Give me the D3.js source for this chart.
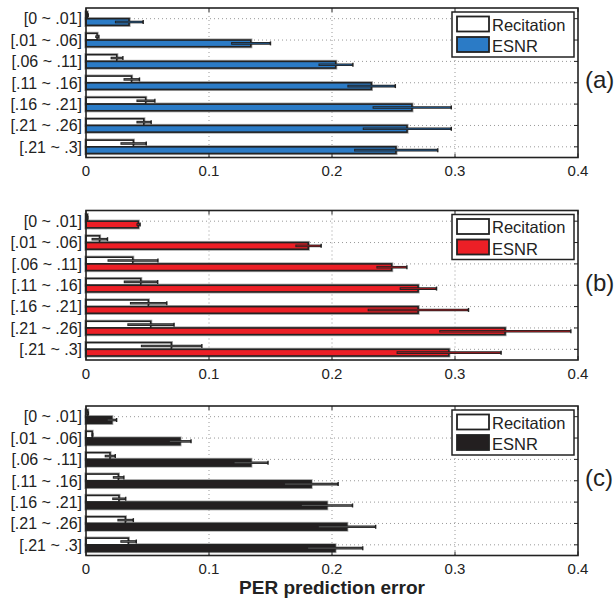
<!DOCTYPE html>
<html>
<head>
<meta charset="utf-8">
<script src="https://cdn.jsdelivr.net/npm/d3@7/dist/d3.min.js"></script>
<style>
  html, body { margin: 0; padding: 0; background: #fff; }
  svg { display: block; font-family: "Liberation Sans", Arial, Helvetica, sans-serif; }
</style>
</head>
<body>
<svg id="chart" width="616" height="600"></svg>
<script>
// categories (top to bottom)
const categories = ["[0 ~ .01]", "[.01 ~ .06]", "[.06 ~ .11]", "[.11 ~ .16]", "[.16 ~ .21]", "[.21 ~ .26]", "[.21 ~ .3]"];
const seriesNames = ["Recitation", "ESNR"];
const xTicks = [0, 0.1, 0.2, 0.3, 0.4];
const panelLabels = ["(a)", "(b)", "(c)"];

// panel (a)
const recA     = [0.001, 0.009, 0.025, 0.037, 0.0485, 0.047, 0.0385];
const recAErr  = [0.0008, 0.0015, 0.005, 0.0065, 0.0075, 0.006, 0.0105];
const esnrA    = [0.035, 0.134, 0.203, 0.232, 0.265, 0.261, 0.252];
const esnrAErr = [0.0115, 0.016, 0.014, 0.0195, 0.032, 0.036, 0.034];

// panel (b)
const recB     = [0.001, 0.011, 0.038, 0.0445, 0.0507, 0.0526, 0.0694];
const recBErr  = [0.0005, 0.0065, 0.0205, 0.0138, 0.015, 0.019, 0.0248];
const esnrB    = [0.0425, 0.1807, 0.2485, 0.270, 0.270, 0.3407, 0.295];
const esnrBErr = [0.0015, 0.0105, 0.0124, 0.015, 0.041, 0.0535, 0.0425];

// panel (c)
const recC     = [0.0014, 0.005, 0.0195, 0.0263, 0.0268, 0.032, 0.0344];
const recCErr  = [0.0005, 0.0005, 0.0043, 0.0045, 0.0055, 0.0065, 0.0065];
const esnrC    = [0.0209, 0.0764, 0.134, 0.183, 0.1957, 0.212, 0.2024];
const esnrCErr = [0.004, 0.009, 0.014, 0.022, 0.021, 0.0235, 0.0226];

const panels = [
  { label: panelLabels[0], rec: recA, recErr: recAErr, esnr: esnrA, esnrErr: esnrAErr, color: "#2b7bc6", top: 8 },
  { label: panelLabels[1], rec: recB, recErr: recBErr, esnr: esnrB, esnrErr: esnrBErr, color: "#ec1f26", top: 210.5 },
  { label: panelLabels[2], rec: recC, recErr: recCErr, esnr: esnrC, esnrErr: esnrCErr, color: "#231f20", top: 406 }
];

const svg = d3.select("#chart");
const plotH = 149.5;
const x = d3.scaleLinear().domain([0, 0.4]).range([86, 578]);
const ink = "#222";

panels.forEach(p => {
  const g = svg.append("g");
  const y = d3.scaleBand().domain(categories).range([p.top, p.top + plotH]).padding(0);
  const sub = d3.scaleBand().domain(seriesNames).range([0, y.bandwidth()]).paddingInner(0).paddingOuter(0.6);
  const bottom = p.top + plotH;

  // grid
  g.selectAll(".vg").data(xTicks.slice(1, -1)).enter().append("line")
    .attr("x1", d => x(d)).attr("x2", d => x(d))
    .attr("y1", p.top).attr("y2", bottom)
    .attr("stroke", "#999").attr("stroke-width", 1).attr("stroke-dasharray", "1,3");
  g.selectAll(".hg").data(categories).enter().append("line")
    .attr("x1", x(0)).attr("x2", x(0.4))
    .attr("y1", d => y(d) + y.bandwidth() / 2).attr("y2", d => y(d) + y.bandwidth() / 2)
    .attr("stroke", "#999").attr("stroke-width", 1).attr("stroke-dasharray", "1,3");

  const rows = categories.map((c, i) => ([
    { cat: c, s: "Recitation", v: p.rec[i], e: p.recErr[i], fill: "#fff" },
    { cat: c, s: "ESNR", v: p.esnr[i], e: p.esnrErr[i], fill: p.color }
  ])).flat();

  // gray halo + bars
  g.selectAll(".halo").data(rows).enter().append("rect")
    .attr("x", x(0)).attr("y", d => y(d.cat) + sub(d.s))
    .attr("width", d => x(d.v) - x(0)).attr("height", sub.bandwidth())
    .attr("fill", "none").attr("stroke", "#aaa").attr("stroke-width", 3.2);
  g.selectAll(".bar").data(rows).enter().append("rect")
    .attr("x", x(0)).attr("y", d => y(d.cat) + sub(d.s))
    .attr("width", d => x(d.v) - x(0)).attr("height", sub.bandwidth())
    .attr("fill", d => d.fill).attr("stroke", ink).attr("stroke-width", 1.6);

  // error bars
  const cy = d => y(d.cat) + sub(d.s) + sub.bandwidth() / 2;
  g.selectAll(".err").data(rows).enter().append("line")
    .attr("x1", d => x(Math.max(0, d.v - d.e))).attr("x2", d => x(d.v + d.e))
    .attr("y1", cy).attr("y2", cy)
    .attr("stroke", ink).attr("stroke-width", 2.6);
  g.selectAll(".errIn").data(rows).enter().append("line")
    .attr("x1", d => x(Math.max(0, d.v - d.e)) + 1).attr("x2", d => x(d.v + d.e) - 1)
    .attr("y1", cy).attr("y2", cy)
    .attr("stroke", d => d.s === "ESNR" && p.color !== "#231f20" ? d3.color(p.color).darker(0.6) : "#666")
    .attr("stroke-width", 0.8);
  g.selectAll(".cap").data(rows).enter().append("line")
    .attr("x1", d => x(d.v + d.e)).attr("x2", d => x(d.v + d.e))
    .attr("y1", d => cy(d) - 2).attr("y2", d => cy(d) + 2)
    .attr("stroke", ink).attr("stroke-width", 1.4);

  // frame
  g.append("rect").attr("x", x(0)).attr("y", p.top)
    .attr("width", x(0.4) - x(0)).attr("height", plotH)
    .attr("fill", "none").attr("stroke", ink).attr("stroke-width", 1.6);

  // inward ticks
  g.selectAll(".yt").data(categories).enter().append("path")
    .attr("d", d => {
      const yy = y(d) + y.bandwidth() / 2;
      return `M${x(0)},${yy}h4M${x(0.4)},${yy}h-4`;
    })
    .attr("stroke", ink).attr("stroke-width", 1);
  g.selectAll(".xt").data(xTicks).enter().append("path")
    .attr("d", d => `M${x(d)},${bottom}v-4M${x(d)},${p.top}v4`)
    .attr("stroke", ink).attr("stroke-width", 1);

  // tick labels
  g.selectAll(".xl").data(xTicks).enter().append("text")
    .attr("x", d => x(d)).attr("y", bottom + 18.5)
    .attr("text-anchor", "middle").attr("font-size", 15).attr("fill", ink)
    .text(d => d === 0 ? "0" : d3.format(".1f")(d));
  g.selectAll(".yl").data(categories).enter().append("text")
    .attr("x", x(0) - 4).attr("y", d => y(d) + y.bandwidth() / 2)
    .attr("dy", "0.36em").attr("text-anchor", "end")
    .attr("font-size", 16).attr("fill", ink)
    .text(d => d);

  // legend
  const lg = g.append("g").attr("transform", `translate(452,${p.top + 4})`);
  lg.append("rect").attr("width", 122).attr("height", 45)
    .attr("fill", "#fff").attr("stroke", ink).attr("stroke-width", 1.5);
  seriesNames.forEach((s, i) => {
    lg.append("rect").attr("x", 5).attr("y", 4.5 + i * 20.5).attr("width", 32).attr("height", 15)
      .attr("fill", i === 0 ? "#fff" : p.color).attr("stroke", ink).attr("stroke-width", 1.8);
    lg.append("text").attr("x", 40).attr("y", 18.5 + i * 21.5)
      .attr("font-size", 16.5).attr("fill", ink).text(s);
  });

  // panel label
  g.append("text").attr("x", 585).attr("y", p.top + 80)
    .attr("font-size", 24).attr("fill", ink).text(p.label);
});

svg.append("text").attr("x", (x(0) + x(0.4)) / 2).attr("y", 594)
  .attr("text-anchor", "middle").attr("font-size", 19).attr("font-weight", "bold")
  .attr("fill", ink).text("PER prediction error");
</script>
</body>
</html>
